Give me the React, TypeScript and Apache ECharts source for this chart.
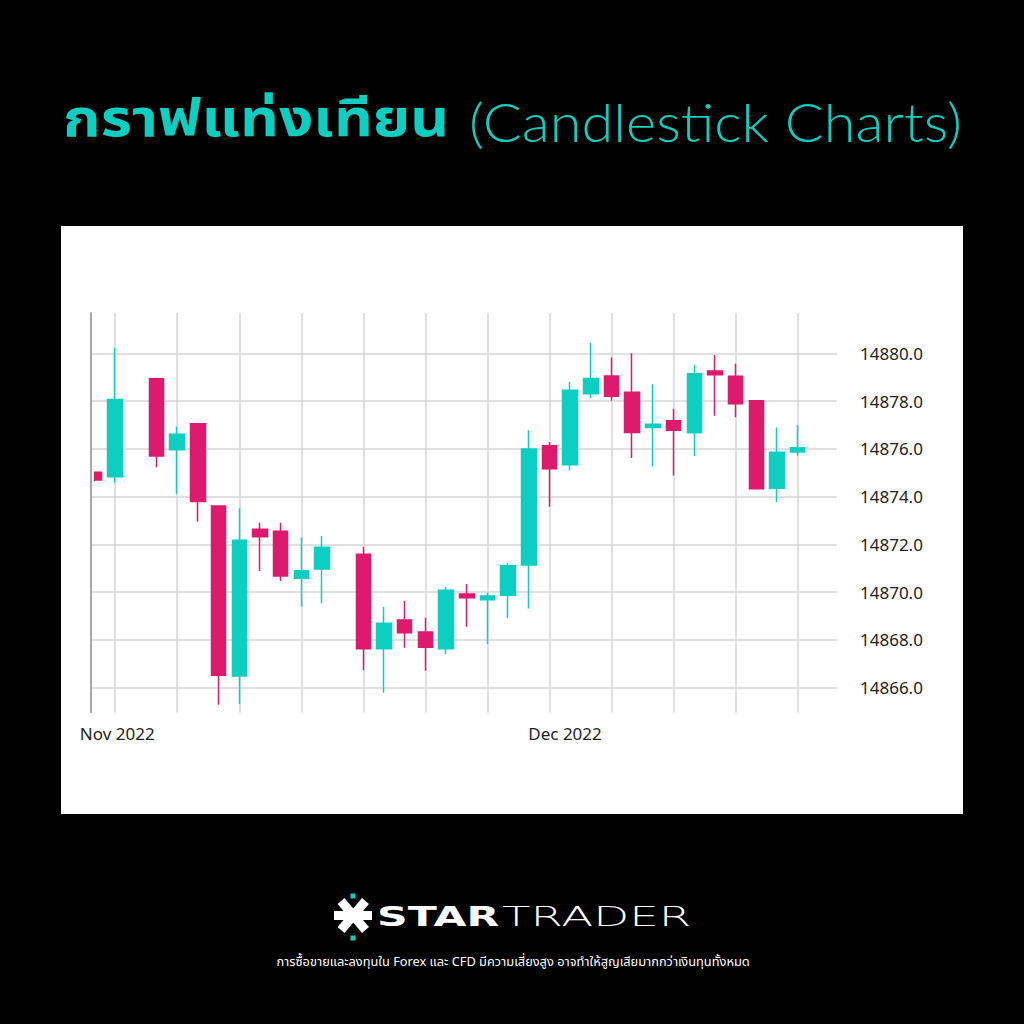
import React, { useEffect, useRef } from "react";
import * as echarts from "echarts";

// Candle slot index along the time axis (slots 1 and 11 have no candle)
const slots = [-1, 0, 2, 3, 4, 5, 6, 7, 8, 9, 10, 12, 13, 14, 15, 16, 17, 18, 19, 20, 21, 22, 23, 24, 25, 26, 27, 28, 29, 30, 31, 32, 33];
const opens = [14875.02, 14874.83, 14878.94, 14875.96, 14877.05, 14873.61, 14866.49, 14872.63, 14872.55, 14870.58, 14870.97, 14871.59, 14867.63, 14868.83, 14868.33, 14867.63, 14869.92, 14869.68, 14869.87, 14871.14, 14876.13, 14875.34, 14878.31, 14879.05, 14878.37, 14876.9, 14877.18, 14876.68, 14879.26, 14879.04, 14878.02, 14874.35, 14875.87];
const closes = [14874.7, 14878.07, 14875.7, 14876.61, 14873.8, 14866.52, 14872.17, 14872.32, 14870.68, 14870.9, 14871.88, 14867.63, 14868.7, 14868.3, 14867.69, 14870.08, 14869.77, 14869.84, 14871.11, 14875.99, 14875.17, 14878.45, 14878.95, 14878.2, 14876.69, 14877.03, 14876.78, 14879.15, 14879.1, 14877.89, 14874.33, 14875.86, 14876.05];
const lows = [14874.65, 14874.58, 14875.23, 14874.1, 14872.95, 14865.28, 14865.32, 14870.89, 14870.47, 14869.39, 14869.53, 14866.73, 14865.79, 14867.67, 14866.71, 14867.4, 14868.55, 14867.83, 14868.91, 14869.32, 14873.58, 14875.09, 14878.13, 14878.02, 14875.62, 14875.25, 14874.88, 14875.7, 14877.39, 14877.32, 14874.33, 14873.76, 14875.7];
const highs = [14875.05, 14880.23, 14878.94, 14876.93, 14877.05, 14873.61, 14873.51, 14872.91, 14872.91, 14872.3, 14872.35, 14871.9, 14869.39, 14869.64, 14868.93, 14870.22, 14870.34, 14869.98, 14871.23, 14876.78, 14876.29, 14878.81, 14880.44, 14879.83, 14880.0, 14878.71, 14877.68, 14879.52, 14879.93, 14879.56, 14878.02, 14876.9, 14877.0];

const yTicks = [14866, 14868, 14870, 14872, 14874, 14876, 14878, 14880];
const xGridSlots = [0, 3, 6, 9, 12, 15, 18, 21, 24, 27, 30, 33];
const xLabelSlots = [0.1, 21.75];
const xLabelTexts = ["Nov 2022", "Dec 2022"];

const TITLE_TH = "กราฟแท่งเทียน";
const TITLE_EN = "(Candlestick Charts)";
const DISCLAIMER = "การซื้อขายและลงทุนใน Forex และ CFD มีความเสี่ยงสูง อาจทำให้สูญเสียมากกว่าเงินทุนทั้งหมด";

const TEAL = "#0dcfc1";
const PINK = "#dd1a6b";
const THAI_FONT = "'Noto Sans Thai', 'Noto Sans Thai Looped', 'Noto Sans', sans-serif";

export default function App() {
  const ref = useRef<HTMLDivElement>(null);

  useEffect(() => {
    const chart = echarts.init(ref.current!, undefined, { renderer: "svg" });
    const data = slots.map((s, i) => [s, opens[i], closes[i], lows[i], highs[i]]);

    chart.setOption({
      animation: false,
      backgroundColor: "#000000",
      grid: { left: 91, top: 313, right: 187, bottom: 311.5, containLabel: false },
      xAxis: {
        type: "value",
        min: -1.17,
        max: 34.9,
        axisLine: { show: false },
        axisTick: { show: false, customValues: xGridSlots },
        splitLine: { show: true, lineStyle: { color: "#d6d6d6", width: 1.5 } },
        axisLabel: {
          customValues: xLabelSlots,
          formatter: (v: number) => {
            const idx = xLabelSlots.findIndex((s) => Math.abs(s - v) < 1e-6);
            return idx >= 0 ? xLabelTexts[idx] : "";
          },
          margin: 12,
          color: "#222222",
          fontSize: 17,
          fontFamily: "'Noto Sans', sans-serif",
        },
      },
      yAxis: [
        {
          type: "value",
          position: "right",
          min: 14864.96,
          max: 14881.69,
          axisLine: { show: false },
          axisTick: { show: false, customValues: yTicks },
          splitLine: { show: true, lineStyle: { color: "#d6d6d6", width: 1.5 } },
          axisLabel: {
            customValues: yTicks,
            formatter: (v: number) => v.toFixed(1),
            margin: 23,
            color: "#222222",
            fontSize: 17,
            fontFamily: "'Noto Sans', sans-serif",
          },
        },
        {
          type: "value",
          position: "left",
          z: 200,
          min: 14864.96,
          max: 14881.69,
          axisLine: { show: true, lineStyle: { color: "#8a8a8a", width: 1.5 } },
          axisTick: { show: false },
          axisLabel: { show: false },
          splitLine: { show: false },
        },
      ],
      series: [
        {
          type: "candlestick",
          yAxisIndex: 0,
          barWidth: 15,
          clip: true,
          data,
          itemStyle: {
            color: TEAL,
            color0: PINK,
            borderColor: TEAL,
            borderColor0: PINK,
            borderWidth: 1.5,
          },
        },
      ],
      graphic: [
        {
          type: "rect",
          z: -10,
          shape: { x: 61, y: 226, width: 902, height: 588 },
          style: { fill: "#ffffff" },
        },
        // white margin left of the plot, hiding the part of the first candle that lies before the plot edge
        {
          type: "rect",
          z: 100,
          shape: { x: 61, y: 455, width: 32.8, height: 40 },
          style: { fill: "#ffffff" },
        },
        {
          type: "text",
          x: 63,
          y: 120,
          scaleX: 1.16,
          style: {
            text: TITLE_TH,
            fill: TEAL,
            font: `bold 52px ${THAI_FONT}`,
            verticalAlign: "middle",
            align: "left",
          },
        },
        {
          type: "text",
          x: 469,
          y: 121,
          scaleX: 1.07,
          style: {
            text: TITLE_EN,
            fill: TEAL,
            font: "300 54px Lato, 'Noto Sans', sans-serif",
            verticalAlign: "middle",
            align: "left",
          },
        },
        // Logo icon
        {
          type: "group",
          children: [
            { type: "line", shape: { x1: 334, y1: 915.5, x2: 372, y2: 915.5 }, style: { stroke: "#ffffff", lineWidth: 9 } },
            { type: "line", shape: { x1: 341, y1: 901, x2: 365.5, y2: 930 }, style: { stroke: "#ffffff", lineWidth: 9 } },
            { type: "line", shape: { x1: 365.5, y1: 901, x2: 341, y2: 930 }, style: { stroke: "#ffffff", lineWidth: 9 } },
            { type: "rect", shape: { x: 350.5, y: 893.5, width: 5, height: 5 }, style: { fill: TEAL } },
            { type: "rect", shape: { x: 350.5, y: 935.5, width: 5, height: 5 }, style: { fill: TEAL } },
          ],
        },
        {
          type: "text",
          x: 377,
          y: 917,
          scaleX: 1.64,
          style: {
            text: "STAR",
            fill: "#ffffff",
            font: "bold 26px 'DejaVu Sans', sans-serif",
            verticalAlign: "middle",
            align: "left",
          },
        },
        {
          type: "text",
          x: 502,
          y: 917,
          scaleX: 1.8,
          style: {
            text: "TRADER",
            fill: "#ffffff",
            font: "200 26px 'DejaVu Sans', sans-serif",
            verticalAlign: "middle",
            align: "left",
          },
        },
        {
          type: "text",
          x: 513,
          y: 962,
          style: {
            text: DISCLAIMER,
            fill: "#ffffff",
            font: `12.8px ${THAI_FONT}`,
            verticalAlign: "middle",
            align: "center",
          },
        },
      ],
    });

    return () => chart.dispose();
  }, []);

  return (
    <div
      ref={ref}
      style={{ position: "fixed", left: 0, top: 0, width: 1024, height: 1024 }}
    />
  );
}
